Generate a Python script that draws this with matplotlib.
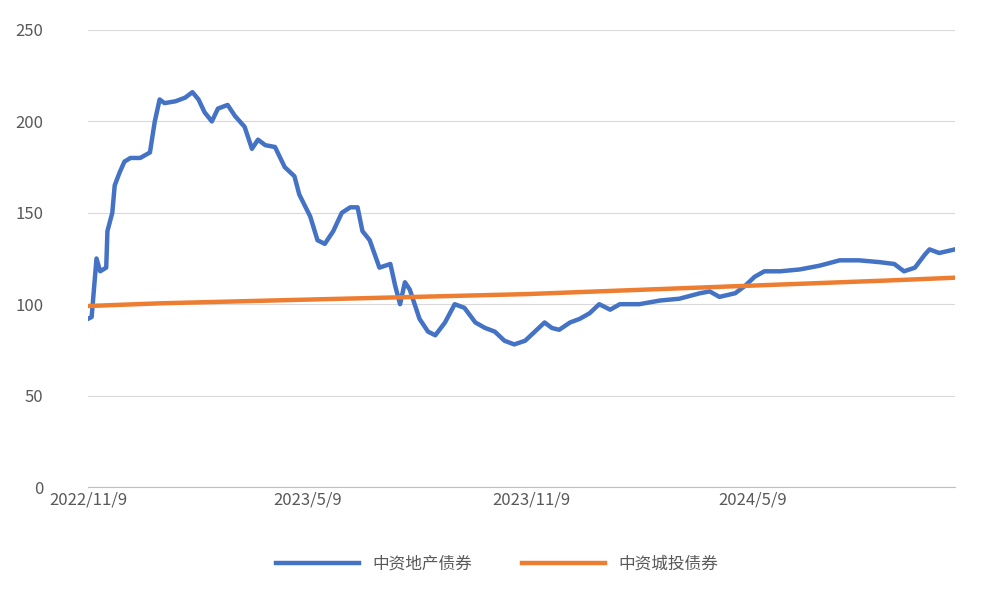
import datetime as dt

import matplotlib.pyplot as plt

plt.rcParams["font.family"] = ["Noto Sans CJK SC", "DejaVu Sans"]

start = dt.date(2022, 11, 9)

# days since 2022/11/9 and index level
property_days = [0, 3, 7, 10, 15, 16, 20, 22, 26, 30, 35, 43, 51, 55, 59, 63, 72, 80, 86, 91,
                 96, 102, 107, 115, 121, 129, 135, 140, 146, 154, 162, 170, 174, 183, 189, 195,
                 202, 209, 216, 222, 226, 232, 240, 249, 253, 257, 261, 265, 269, 273, 280, 286,
                 294, 302, 310, 319, 327, 335, 343, 351, 360, 368, 376, 382, 388, 397, 405, 413,
                 421, 430, 438, 454, 471, 487, 504, 512, 520, 533, 541, 549, 557, 570, 586, 602,
                 619, 635, 652, 664, 672, 681, 689, 693, 701, 714]
property_vals = [92, 93, 125, 118, 120, 140, 150, 165, 172, 178, 180, 180, 183, 200, 212, 210,
                 211, 213, 216, 212, 205, 200, 207, 209, 203, 197, 185, 190, 187, 186, 175, 170,
                 160, 148, 135, 133, 140, 150, 153, 153, 140, 135, 120, 122, 110, 100, 112, 108,
                 100, 92, 85, 83, 90, 100, 98, 90, 87, 85, 80, 78, 80, 85, 90, 87, 86, 90, 92, 95,
                 100, 97, 100, 100, 102, 103, 106, 107, 104, 106, 110, 115, 118, 118, 119, 121,
                 124, 124, 123, 122, 118, 120, 127, 130, 128, 130]

lgfv_days = [0, 60, 120, 180, 240, 300, 360, 420, 480, 540, 600, 660, 714]
lgfv_vals = [99, 100.5, 101.5, 102.5, 103.5, 104.5, 105.5, 107, 108.5, 110, 111.5, 113, 114.5]

tick_dates = [dt.date(2022, 11, 9), dt.date(2023, 5, 9), dt.date(2023, 11, 9), dt.date(2024, 5, 9)]
tick_labels = ["2022/11/9", "2023/5/9", "2023/11/9", "2024/5/9"]

to_dates = lambda days: [start + dt.timedelta(days=d) for d in days]

fig = plt.figure(figsize=(9.94, 6.12), dpi=100)
ax = fig.add_axes([88 / 994, 1 - 487 / 612, (955 - 88) / 994, (487 - 30) / 612])

ax.plot(to_dates(property_days), property_vals, color="#4472C4", lw=3.2, label="中资地产债券")
ax.plot(to_dates(lgfv_days), lgfv_vals, color="#ED7D31", lw=3.2, label="中资城投债券")

ax.set_ylim(0, 250)
ax.set_yticks(range(0, 251, 50))
ax.set_xlim(start, start + dt.timedelta(days=714))
ax.set_xticks(tick_dates)
ax.set_xticklabels(tick_labels)
ax.grid(axis="y", color="#D9D9D9", lw=0.8)
ax.set_axisbelow(True)
for side in ["left", "right", "top"]:
    ax.spines[side].set_visible(False)
ax.spines["bottom"].set_color("#BFBFBF")
ax.tick_params(length=0, colors="#595959", labelsize=12)
ax.tick_params(axis="y", pad=32)

fig.legend(loc="lower center", bbox_to_anchor=(0.5, 0.04), ncol=2, frameon=False,
           fontsize=12, labelcolor="#595959", handlelength=5, columnspacing=3)

fig.savefig("out.png")
